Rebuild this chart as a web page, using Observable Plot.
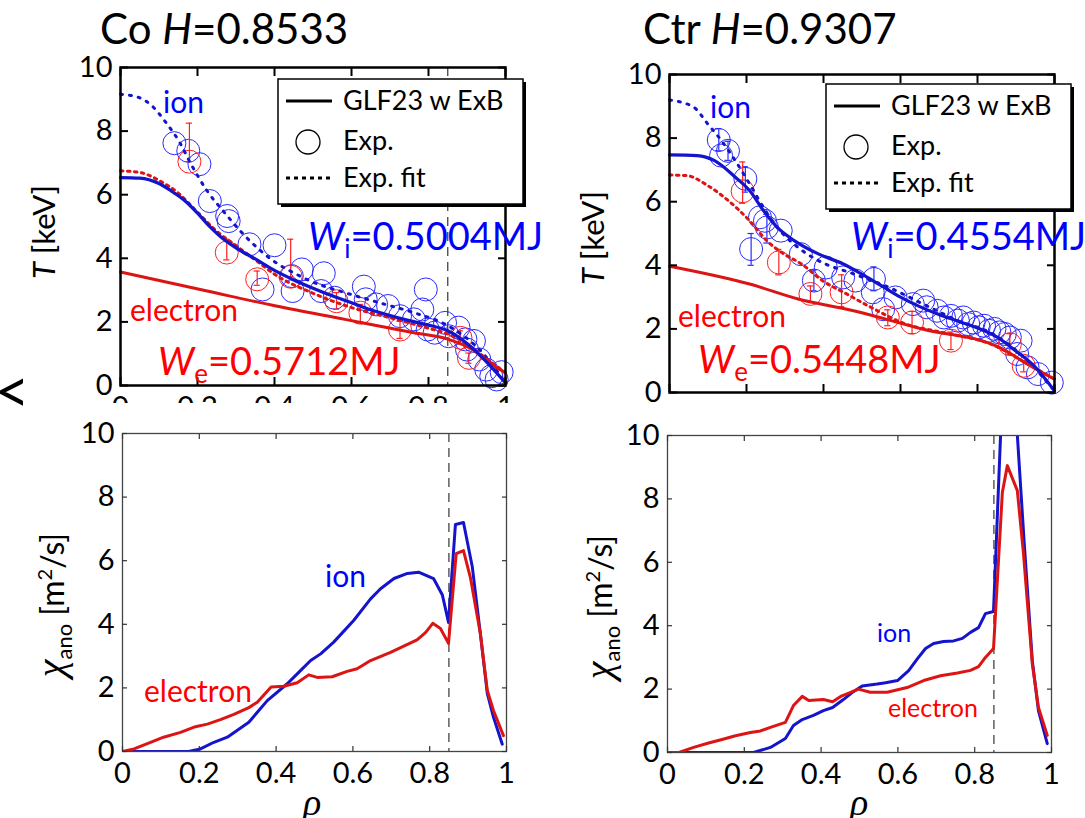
<!DOCTYPE html>
<html><head><meta charset="utf-8">
<script src="https://cdn.jsdelivr.net/npm/d3@7"></script>
<script src="https://cdn.jsdelivr.net/npm/@observablehq/plot@0.6"></script>
<style>
body{margin:0;background:#fff;}
#root{position:relative;width:1085px;height:818px;overflow:hidden;background:#fff;font-family:Lato,sans-serif;}
#root svg{position:absolute;}
#art{position:absolute;left:-6px;top:358px;font:62px Lato,sans-serif;line-height:1;}
</style></head><body><div id="root"></div>
<script>
// ---------- tick labels / text ----------
const xTicks = [0, 0.2, 0.4, 0.6, 0.8, 1];
const yTicks = [0, 2, 4, 6, 8, 10];
const titleNames = ["Co", "Ctr"];
const hValues = ["0.8533", "0.9307"];
const wIon = ["0.5004MJ", "0.4554MJ"];
const wEl = ["0.5712MJ", "0.5448MJ"];
const legendLabels = ["GLF23 w ExB", "Exp.", "Exp. fit"];
const sepRho = 0.85;

// ---------- Co : temperature ----------
const coIonSimRho = [0,0.05,0.1,0.14,0.17,0.2,0.23,0.26,0.3,0.35,0.4,0.45,0.5,0.55,0.6,0.65,0.7,0.75,0.8,0.85,0.9,0.95,1.0];
const coIonSimT   = [6.54,6.52,6.35,6.05,5.78,5.42,5.02,4.68,4.33,3.98,3.62,3.32,3.06,2.82,2.6,2.38,2.2,2.04,1.9,1.72,1.32,0.75,0.08];
const coIonFitRho = [0,0.047,0.082,0.118,0.154,0.181,0.225,0.27,0.315,0.36,0.404,0.449,0.494,0.583,0.673,0.762,0.852,0.94,1.0];
const coIonFitT   = [9.16,9.06,8.79,8.27,7.64,7.01,6.12,5.44,4.81,4.28,3.86,3.55,3.28,2.92,2.6,2.29,1.87,1.03,0.08];
const coElSimRho  = [0,0.225,0.404,0.583,0.762,0.852,0.914,0.959,1.0];
const coElSimT    = [3.57,2.97,2.5,2.08,1.66,1.45,1.13,0.71,0.4];
const coElFitRho  = [0,0.05,0.1,0.15,0.2,0.25,0.3,0.35,0.4,0.5,0.6,0.7,0.8,0.85,0.9,0.95,1.0];
const coElFitT    = [6.75,6.7,6.45,6.05,5.45,4.85,4.4,3.95,3.5,2.9,2.45,2.13,1.8,1.62,1.3,0.85,0.4];
const coIonExpRho = [0.14,0.176,0.205,0.232,0.277,0.281,0.335,0.4,0.369,0.445,0.471,0.528,0.447,0.521,0.556,0.632,0.637,0.664,0.695,0.726,0.762,0.793,0.784,0.798,0.816,0.843,0.852,0.878,0.896,0.9,0.918,0.932,0.95,0.963,0.99,0.977];
const coIonExpT   = [7.62,7.38,6.96,5.8,5.33,5.17,4.44,4.41,3.02,3.44,3.65,3.53,2.97,2.97,2.76,3.11,2.71,2.55,2.5,2.18,2.08,3.02,2.39,1.76,1.66,1.97,1.55,1.82,1.45,1.13,1.4,0.82,0.5,0.29,0.42,0.19];
const coElExpRho  = [0.179,0.276,0.355,0.442,0.561,0.623,0.726,0.883,0.905];
const coElExpT    = [7.04,4.18,3.34,3.42,2.65,2.29,1.76,1.5,0.87];
const coElExpLo   = [7.04,3.95,3.15,3.42,2.4,2.0,1.48,1.3,0.7];
const coElExpHi   = [8.25,4.6,3.6,4.6,2.92,2.55,2.02,1.72,1.02];

// ---------- Ctr : temperature ----------
const ctrIonSimRho = [0,0.072,0.117,0.171,0.208,0.244,0.28,0.325,0.388,0.45,0.5,0.55,0.6,0.65,0.7,0.75,0.8,0.85,0.9,0.95,1.0];
const ctrIonSimT   = [7.47,7.45,7.29,6.77,6.35,5.72,5.19,4.77,4.35,4.05,3.72,3.36,3.0,2.7,2.45,2.24,2.03,1.75,1.3,0.8,0.05];
const ctrIonFitRho = [0,0.063,0.099,0.135,0.171,0.208,0.244,0.28,0.334,0.388,0.478,0.569,0.659,0.749,0.84,0.93,1.0];
const ctrIonFitT   = [9.2,8.97,8.45,7.92,7.29,6.56,5.82,5.19,4.56,4.14,3.73,3.31,2.78,2.26,1.84,1.0,0.05];
const ctrElSimRho  = [0,0.208,0.334,0.478,0.659,0.857,0.93,1.0];
const ctrElSimT    = [3.97,3.41,2.94,2.57,1.99,1.42,0.89,0.42];
const ctrElFitRho  = [0,0.045,0.099,0.153,0.208,0.253,0.298,0.343,0.397,0.46,0.523,0.614,0.704,0.839,0.93,1.0];
const ctrElFitT    = [6.84,6.82,6.51,6.03,5.4,4.77,4.35,4.04,3.52,3.1,2.68,2.15,1.9,1.5,0.9,0.42];
const ctrIonExpRho = [0.128,0.134,0.152,0.197,0.235,0.248,0.212,0.253,0.289,0.341,0.375,0.406,0.451,0.483,0.531,0.528,0.555,0.587,0.632,0.659,0.668,0.695,0.713,0.731,0.749,0.763,0.776,0.79,0.803,0.817,0.83,0.844,0.857,0.871,0.884,0.912,0.903,0.93,0.957,0.993];
const ctrIonExpT   = [7.94,7.45,7.6,6.72,5.51,5.4,4.51,5.19,5.09,4.35,3.52,3.93,3.62,3.52,3.57,3.15,2.62,2.99,2.78,2.89,2.68,2.57,2.36,2.41,2.26,2.36,2.15,2.2,2.05,2.1,1.94,2.0,1.89,1.84,1.73,1.63,1.21,0.79,0.58,0.31];
const ctrIonErrRho = [0.128,0.152,0.197,0.212,0.253,0.375,0.531];
const ctrIonErrLo  = [7.6,7.3,6.3,4.0,4.7,3.2,3.2];
const ctrIonErrHi  = [8.3,7.9,7.1,5.0,5.6,3.85,3.95];
const ctrElExpRho  = [0.19,0.284,0.366,0.447,0.567,0.63,0.731,0.884,0.92];
const ctrElExpT    = [6.33,4.09,3.1,3.15,2.36,2.2,1.63,1.52,0.84];
const ctrElExpLo   = [5.95,3.7,2.85,2.7,2.1,1.85,1.35,1.2,0.65];
const ctrElExpHi   = [7.25,4.5,3.35,3.7,2.6,2.55,1.9,1.85,1.0];

// ---------- Co : chi_ano ----------
const coChiIonRho = [0,0.172,0.203,0.238,0.273,0.329,0.377,0.429,0.455,0.49,0.516,0.55,0.602,0.646,0.672,0.707,0.742,0.771,0.81,0.833,0.849,0.867,0.888,0.911,0.932,0.95,0.966,0.989];
const coChiIon    = [0,0,0.08,0.29,0.45,0.92,1.6,2.13,2.44,2.86,3.07,3.44,4.12,4.8,5.12,5.44,5.6,5.64,5.44,4.92,4.06,7.14,7.2,5.8,3.7,1.83,1.08,0.23];
const coChiElRho  = [0,0.03,0.073,0.107,0.151,0.19,0.221,0.255,0.29,0.329,0.351,0.387,0.42,0.455,0.485,0.507,0.546,0.585,0.611,0.646,0.698,0.767,0.789,0.808,0.828,0.849,0.869,0.888,0.906,0.932,0.95,0.966,0.992];
const coChiEl     = [0,0.08,0.29,0.45,0.6,0.78,0.86,1.0,1.17,1.38,1.55,2.03,2.05,2.16,2.41,2.33,2.35,2.52,2.6,2.86,3.12,3.51,3.74,4.03,3.87,3.4,6.22,6.32,5.47,3.7,1.92,1.29,0.5];

// ---------- Ctr : chi_ano ----------
const ctrChiIonRho = [0,0.224,0.268,0.307,0.328,0.351,0.38,0.406,0.43,0.458,0.484,0.507,0.546,0.568,0.599,0.628,0.651,0.672,0.693,0.719,0.745,0.768,0.789,0.81,0.828,0.849,0.869,0.889,0.909,0.929,0.95,0.966,0.989];
const ctrChiIon    = [0,0,0.16,0.44,0.85,1.04,1.17,1.32,1.42,1.67,1.92,2.1,2.16,2.2,2.27,2.58,2.96,3.28,3.44,3.5,3.52,3.6,3.79,3.94,4.38,4.45,10.5,12.0,10.4,6.6,2.9,1.32,0.28];
const ctrChiElRho  = [0,0.03,0.068,0.107,0.142,0.177,0.216,0.242,0.268,0.307,0.328,0.351,0.368,0.406,0.43,0.451,0.477,0.497,0.528,0.572,0.624,0.667,0.711,0.755,0.789,0.81,0.828,0.849,0.872,0.885,0.911,0.927,0.95,0.966,0.989];
const ctrChiEl     = [0,0,0.16,0.3,0.41,0.53,0.63,0.68,0.79,0.95,1.48,1.77,1.64,1.67,1.6,1.77,1.9,2.0,1.9,1.9,2.05,2.27,2.42,2.51,2.59,2.71,3.0,3.28,8.2,9.05,8.26,6.28,2.8,1.42,0.54];

// ---------- styling ----------
const LINE_BLUE = "#1414cc", LINE_RED = "#dc1414";
const DOT_BLUE = "#2a2aff", DOT_RED = "#ff2020";
const TXT_BLUE = "#0000ff", TXT_RED = "#ff0000";
const FONT = "Lato, sans-serif", GREEK = "'Liberation Serif', 'DejaVu Serif', serif";
const TICK_FS = 29, LABEL_FS = 31, SERIES_FS = 30;

const pts = (xs, ys) => xs.map((x, i) => ({x, y: ys[i]}));
const errs = (xs, lo, hi) => xs.map((x, i) => ({x, lo: lo[i], hi: hi[i]}));
const fmt = d => String(d);
const root = document.getElementById("root");

function axes(o, top) {
  const ts = top ? -8 : -5, sw = top ? 2 : 1.2, col = top ? "#000" : "#333";
  const common = {tickSize: ts, strokeWidth: sw, stroke: col, label: null, fontSize: TICK_FS, fill: "#000"};
  return [
    Plot.axisY({...common, anchor: "left", ticks: yTicks, tickPadding: -ts + 8, tickFormat: fmt}),
    Plot.axisY({...common, anchor: "right", ticks: yTicks, tickFormat: () => ""}),
    Plot.axisX({...common, anchor: "top", ticks: xTicks, tickFormat: () => ""}),
    Plot.axisX({...common, anchor: "bottom", ticks: xTicks, tickPadding: -ts + 11, tickFormat: o.xLabels ? fmt : () => ""})
  ];
}

function panel(o) {
  const svg = Plot.plot({
    width: o.w, height: o.h,
    marginLeft: o.mL, marginRight: o.mR, marginTop: o.mT, marginBottom: o.mB,
    x: {domain: [0, 1]}, y: {domain: [0, 10]},
    style: {fontFamily: FONT, fontSize: TICK_FS + "px", color: "#000", background: "transparent", overflow: "hidden"},
    marks: [
      ...o.marks,
      Plot.frame(o.top ? {stroke: "#000", strokeWidth: 2.5} : {stroke: "#444", strokeWidth: 1.3}),
      ...axes(o, o.top)
    ]
  });
  svg.style.left = o.left + "px";
  svg.style.top = o.topPx + "px";
  svg.style.maxWidth = "none";
  svg.style.overflow = "hidden";
  root.appendChild(svg);
  return svg;
}

function rich(svg, o, x, y, parts, opt = {}) {
  const {size = 27, anchor = "start", rotate = 0, color = "#000"} = opt;
  const t = d3.select(svg).append("text")
    .attr("transform", `translate(${x - o.left},${y - o.topPx})` + (rotate ? ` rotate(${rotate})` : ""))
    .attr("text-anchor", anchor).attr("font-size", size).attr("font-family", FONT).attr("fill", color);
  for (const p of parts) {
    const s = t.append("tspan").text(p.t);
    if (p.i) s.attr("font-style", "italic");
    if (p.f) s.attr("font-family", p.f);
    if (p.s) s.attr("font-size", p.s);
    if (p.dy) s.attr("dy", p.dy);
  }
}

function legend(svg, o, bx, by) {
  const g = d3.select(svg).append("g").attr("transform", `translate(${bx - o.left},${by - o.topPx})`);
  g.append("rect").attr("x", 3).attr("y", 3).attr("width", 245).attr("height", 125).attr("fill", "#000");
  g.append("rect").attr("width", 245).attr("height", 125).attr("fill", "#fff").attr("stroke", "#000").attr("stroke-width", 1.5);
  g.append("line").attr("x1", 8).attr("x2", 54).attr("y1", 22).attr("y2", 22).attr("stroke", "#000").attr("stroke-width", 3);
  g.append("circle").attr("cx", 30).attr("cy", 63).attr("r", 12).attr("fill", "none").attr("stroke", "#000").attr("stroke-width", 1.3);
  g.append("line").attr("x1", 8).attr("x2", 54).attr("y1", 99).attr("y2", 99).attr("stroke", "#000").attr("stroke-width", 3).attr("stroke-dasharray", "4,4");
  [31, 71, 108].forEach((yy, i) => g.append("text").attr("x", 65).attr("y", yy).attr("text-anchor", "start")
    .attr("font-size", 27).attr("font-family", FONT).attr("fill", "#000").text(legendLabels[i]));
}

function tempMarks(d) {
  const m = [];
  if (d.sep) m.push(Plot.ruleX([sepRho], {stroke: "#444", strokeWidth: 1.3, strokeDasharray: "9,6"}));
  m.push(
    Plot.dot(d.ionExp, {x: "x", y: "y", r: 11.5, stroke: DOT_BLUE, strokeWidth: 1, fill: "none"}),
    Plot.dot(d.elExp, {x: "x", y: "y", r: 11.5, stroke: DOT_RED, strokeWidth: 1, fill: "none"})
  );
  for (const [e, c] of [[d.ionErr, DOT_BLUE], [d.elErr, DOT_RED]]) {
    if (!e) continue;
    m.push(
      Plot.ruleX(e, {x: "x", y1: "lo", y2: "hi", stroke: c, strokeWidth: 1.2}),
      Plot.ruleY(e, {y: "hi", x1: q => q.x - 0.008, x2: q => q.x + 0.008, stroke: c, strokeWidth: 1.2}),
      Plot.ruleY(e, {y: "lo", x1: q => q.x - 0.008, x2: q => q.x + 0.008, stroke: c, strokeWidth: 1.2})
    );
  }
  m.push(
    Plot.line(d.ionFit, {x: "x", y: "y", stroke: LINE_BLUE, strokeWidth: 3, strokeDasharray: "2,7", curve: "monotone-x"}),
    Plot.line(d.elFit, {x: "x", y: "y", stroke: LINE_RED, strokeWidth: 3, strokeDasharray: "2.5,4.5", curve: "monotone-x"}),
    Plot.line(d.elSim, {x: "x", y: "y", stroke: LINE_RED, strokeWidth: 3, curve: "monotone-x"}),
    Plot.line(d.ionSim, {x: "x", y: "y", stroke: LINE_BLUE, strokeWidth: 3.2, curve: "monotone-x"})
  );
  return m;
}

function chiMarks(ion, el) {
  return [
    Plot.ruleX([sepRho], {stroke: "#444", strokeWidth: 1.3, strokeDasharray: "9,6"}),
    Plot.line(ion, {x: "x", y: "y", stroke: LINE_BLUE, strokeWidth: 3, clip: true}),
    Plot.line(el, {x: "x", y: "y", stroke: LINE_RED, strokeWidth: 3, clip: true})
  ];
}

// ---------- panels ----------
const TL = {left: 0, topPx: 0, w: 548, h: 403, mL: 120, mR: 43, mT: 67, mB: 18, top: true, xLabels: true};
TL.marks = tempMarks({
  sep: true,
  ionSim: pts(coIonSimRho, coIonSimT), ionFit: pts(coIonFitRho, coIonFitT),
  elSim: pts(coElSimRho, coElSimT), elFit: pts(coElFitRho, coElFitT),
  ionExp: pts(coIonExpRho, coIonExpT), elExp: pts(coElExpRho, coElExpT),
  elErr: errs(coElExpRho, coElExpLo, coElExpHi)
});
const TR = {left: 548, topPx: 0, w: 537, h: 403, mL: 121, mR: 31, mT: 74, mB: 11, top: true, xLabels: false};
TR.marks = tempMarks({
  sep: false,
  ionSim: pts(ctrIonSimRho, ctrIonSimT), ionFit: pts(ctrIonFitRho, ctrIonFitT),
  elSim: pts(ctrElSimRho, ctrElSimT), elFit: pts(ctrElFitRho, ctrElFitT),
  ionExp: pts(ctrIonExpRho, ctrIonExpT), elExp: pts(ctrElExpRho, ctrElExpT),
  ionErr: errs(ctrIonErrRho, ctrIonErrLo, ctrIonErrHi),
  elErr: errs(ctrElExpRho, ctrElExpLo, ctrElExpHi)
});
const BL = {left: 0, topPx: 410, w: 548, h: 408, mL: 122, mR: 42, mT: 23, mB: 67, top: false, xLabels: true};
BL.marks = chiMarks(pts(coChiIonRho, coChiIon), pts(coChiElRho, coChiEl));
const BR = {left: 548, topPx: 410, w: 537, h: 408, mL: 119, mR: 34, mT: 25, mB: 66, top: false, xLabels: true};
BR.marks = chiMarks(pts(ctrChiIonRho, ctrChiIon), pts(ctrChiElRho, ctrChiEl));

const sTL = panel(TL), sTR = panel(TR), sBL = panel(BL), sBR = panel(BR);

// legends
legend(sTL, TL, 278, 79);
legend(sTR, TR, 826, 84);

// titles
rich(sTL, TL, 100, 44, [{t: titleNames[0] + " "}, {t: "H", i: true}, {t: "=" + hValues[0]}], {size: 42});
rich(sTR, TR, 643, 44, [{t: titleNames[1] + " "}, {t: "H", i: true}, {t: "=" + hValues[1]}], {size: 42});

// y labels, top
for (const [s, o, x, y] of [[sTL, TL, 55, 232], [sTR, TR, 604, 238]]) {
  rich(s, o, x, y, [{t: "T", i: true}, {t: " [keV]"}], {size: LABEL_FS, anchor: "middle", rotate: -90});
}
// y labels, bottom
for (const [s, o, x, y] of [[sBL, BL, 64, 605], [sBR, BR, 612, 607]]) {
  rich(s, o, x, y, [{t: "χ", i: true, f: GREEK, s: 40}, {t: "ano", s: 22, dy: 8}, {t: " [m", dy: -8}, {t: "2", s: 20, dy: -12}, {t: "/s]", dy: 12}], {size: 32, anchor: "middle", rotate: -90});
}
// x labels
rich(sBL, BL, 312, 815, [{t: "ρ", i: true, f: GREEK}], {size: 38, anchor: "middle"});
rich(sBR, BR, 859, 815, [{t: "ρ", i: true, f: GREEK}], {size: 38, anchor: "middle"});

// series labels, top
rich(sTL, TL, 163, 113, [{t: "ion"}], {size: SERIES_FS, color: TXT_BLUE});
rich(sTL, TL, 130, 321, [{t: "electron"}], {size: SERIES_FS, color: TXT_RED});
rich(sTL, TL, 308, 250, [{t: "W", i: true}, {t: "i", s: 26, dy: 8}, {t: "=" + wIon[0], dy: -8}], {size: 38, color: TXT_BLUE});
rich(sTL, TL, 158, 375, [{t: "W", i: true}, {t: "e", s: 26, dy: 8}, {t: "=" + wEl[0], dy: -8}], {size: 38, color: TXT_RED});
rich(sTR, TR, 710, 118, [{t: "ion"}], {size: SERIES_FS, color: TXT_BLUE});
rich(sTR, TR, 678, 327, [{t: "electron"}], {size: SERIES_FS, color: TXT_RED});
rich(sTR, TR, 851, 250, [{t: "W", i: true}, {t: "i", s: 26, dy: 8}, {t: "=" + wIon[1], dy: -8}], {size: 38, color: TXT_BLUE});
rich(sTR, TR, 698, 373, [{t: "W", i: true}, {t: "e", s: 26, dy: 8}, {t: "=" + wEl[1], dy: -8}], {size: 38, color: TXT_RED});
// series labels, bottom
rich(sBL, BL, 325, 587, [{t: "ion"}], {size: SERIES_FS, color: TXT_BLUE});
rich(sBL, BL, 144, 702, [{t: "electron"}], {size: SERIES_FS, color: TXT_RED});
rich(sBR, BR, 877, 642, [{t: "ion"}], {size: 25, color: TXT_BLUE});
rich(sBR, BR, 888, 717, [{t: "electron"}], {size: 25, color: TXT_RED});

// clipped glyph at the left edge of the original figure
const art = document.createElement("div");
art.id = "art"; art.textContent = "<";
root.appendChild(art);
</script></body></html>
